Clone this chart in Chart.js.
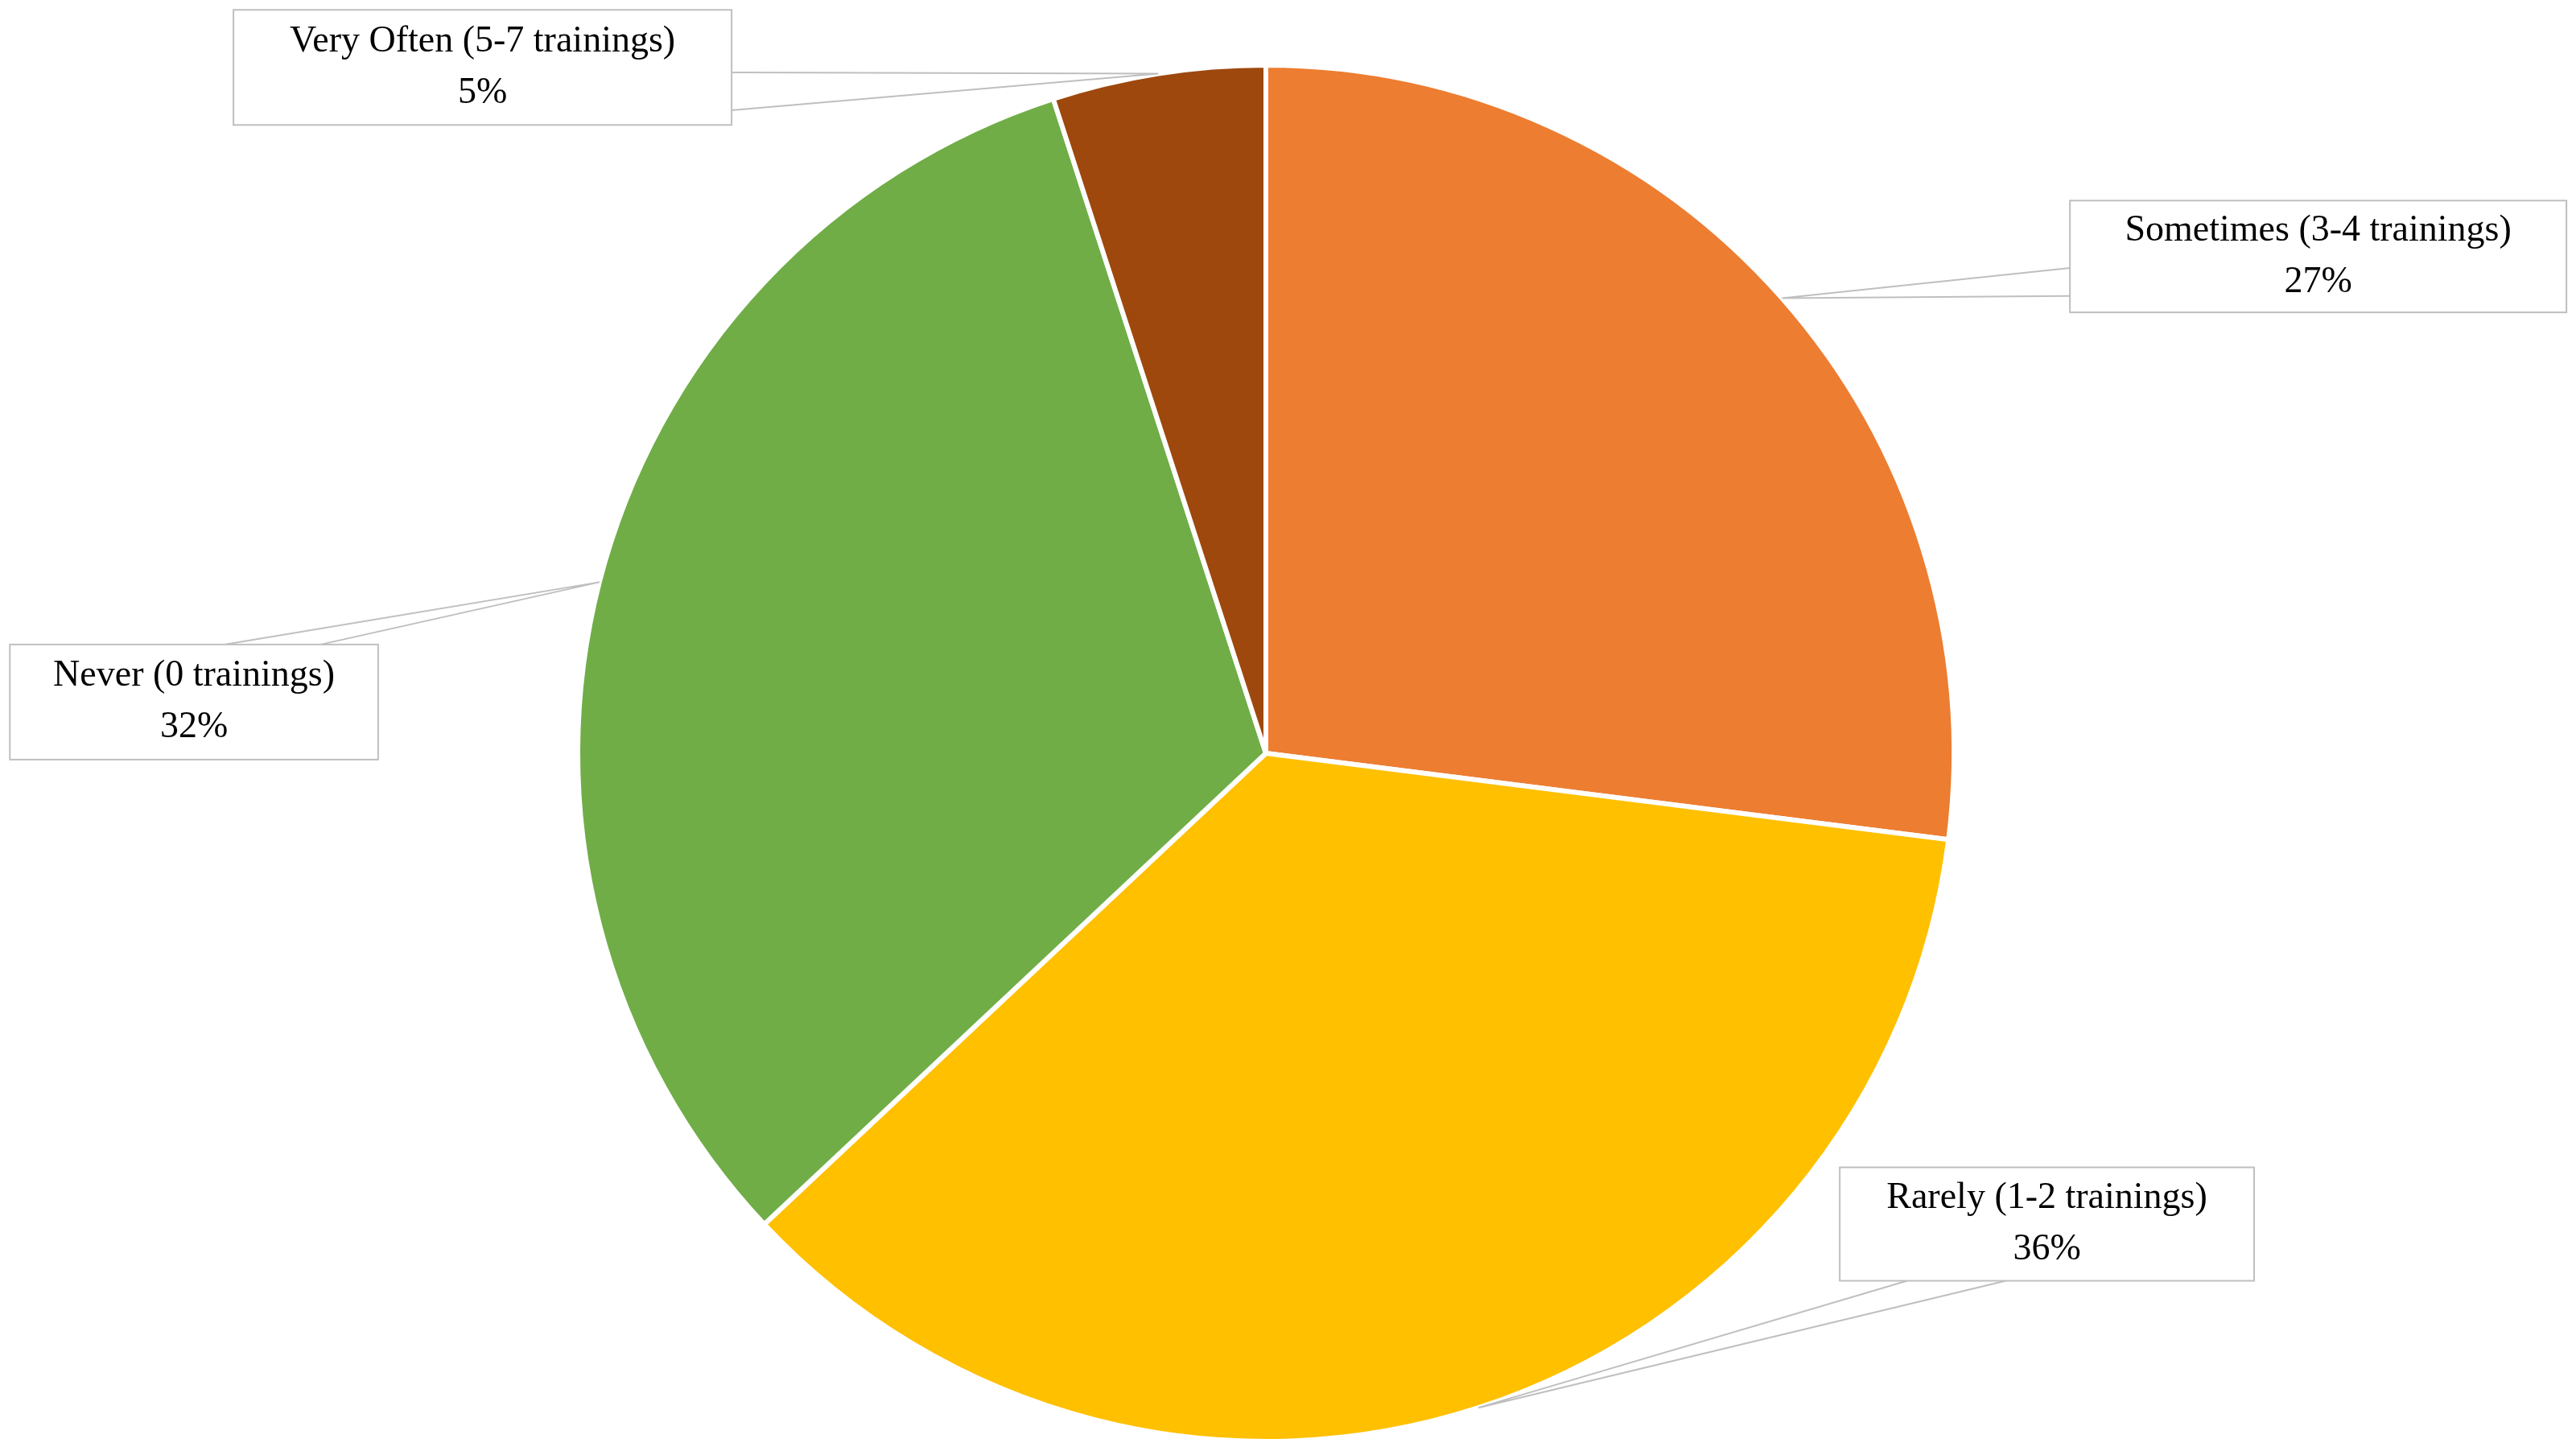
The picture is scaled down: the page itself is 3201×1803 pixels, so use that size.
<!DOCTYPE html>
<html>
<head>
<meta charset="UTF-8">
<script src="https://cdn.jsdelivr.net/npm/chart.js"></script>
<style>
  html, body { margin: 0; padding: 0; background: #fff; }
  canvas { display: block; }
</style>
</head>
<body>
<canvas id="pie" width="3201" height="1803"></canvas>
<script>
const categories = ['Sometimes (3-4 trainings)', 'Rarely (1-2 trainings)', 'Never (0 trainings)', 'Very Often (5-7 trainings)'];
const shares = [27, 36, 32, 5];
const colors = ['#ED7D31', '#FFC000', '#70AD47', '#9E480E'];

// label box layout, in reference display units (scaled by S)
const S = 2.043;
const boxes = [
  { x: 1259, y: 122, w: 302, h: 68, e: [[1259, 163], [1259, 180]] },
  { x: 1119, y: 710, w: 252, h: 69, e: [[1160, 779], [1220, 779]] },
  { x: 6, y: 392, w: 224, h: 70, e: [[137, 392], [195, 392]] },
  { x: 142, y: 6, w: 303, h: 70, e: [[445, 44], [445, 67]] }
];

const calloutPlugin = {
  id: 'callouts',
  afterDatasetsDraw(chart) {
    const ctx = chart.ctx;
    const meta = chart.getDatasetMeta(0);
    ctx.save();
    ctx.strokeStyle = '#bfbfbf';
    ctx.lineWidth = 2;
    meta.data.forEach((arc, i) => {
      const b = boxes[i];
      const mid = (arc.startAngle + arc.endAngle) / 2;
      const px = arc.x + Math.cos(mid) * arc.outerRadius;
      const py = arc.y + Math.sin(mid) * arc.outerRadius;
      ctx.beginPath();
      b.e.forEach(p => { ctx.moveTo(px, py); ctx.lineTo(p[0] * S, p[1] * S); });
      ctx.stroke();
      ctx.fillStyle = '#fff';
      ctx.fillRect(b.x * S, b.y * S, b.w * S, b.h * S);
      ctx.strokeRect(b.x * S, b.y * S, b.w * S, b.h * S);
      ctx.fillStyle = '#000';
      ctx.font = '46px "Liberation Serif"';
      ctx.textAlign = 'center';
      ctx.textBaseline = 'middle';
      const cx = (b.x + b.w / 2) * S;
      const cy = (b.y + b.h / 2) * S;
      ctx.fillText(categories[i], cx, cy - 32);
      ctx.fillText(shares[i] + '%', cx, cy + 32);
    });
    ctx.restore();
  }
};

new Chart(document.getElementById('pie'), {
  type: 'pie',
  data: {
    labels: categories,
    datasets: [{
      data: shares,
      backgroundColor: colors,
      borderColor: '#ffffff',
      borderWidth: 6
    }]
  },
  options: {
    responsive: false,
    devicePixelRatio: 1,
    animation: false,
    layout: { padding: { left: 715, right: 770, top: 78, bottom: 9 } },
    plugins: { legend: { display: false }, tooltip: { enabled: false } }
  },
  plugins: [calloutPlugin]
});
</script>
</body>
</html>
